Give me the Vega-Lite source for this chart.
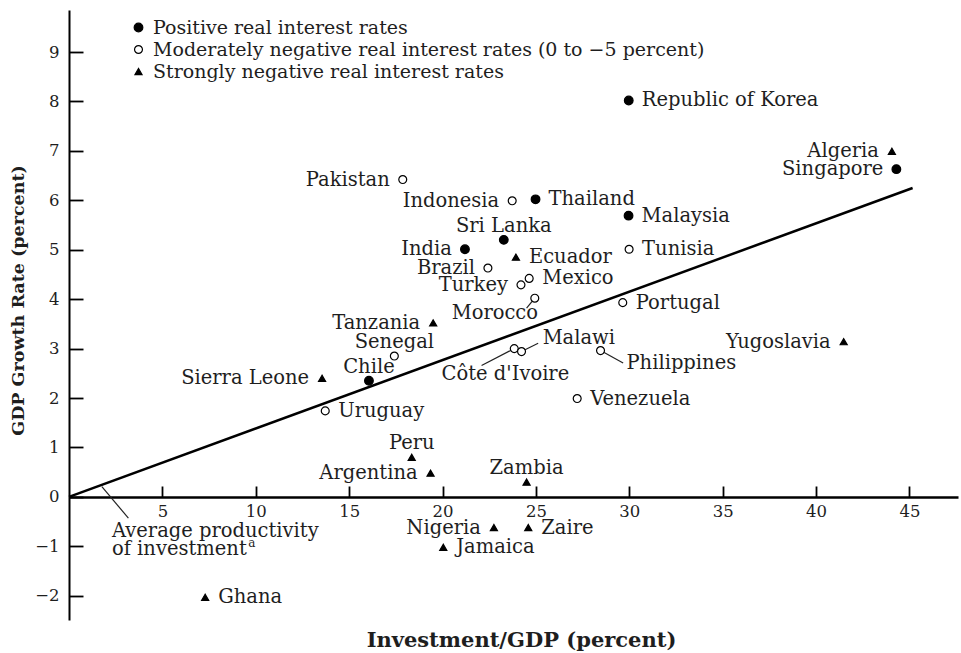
{
  "$schema": "https://vega.github.io/schema/vega-lite/v6.json",
  "width": 889,
  "height": 610,
  "autosize": {"type": "none"},
  "padding": {"left": 69, "top": 10, "right": 3, "bottom": 33},
  "background": "white",
  "config": {
    "view": {"stroke": null},
    "font": "DejaVu Serif",
    "text": {"font": "DejaVu Serif", "fontSize": 19.5, "color": "#1e1e1e"},
    "axis": {"grid": false, "domainColor": "black", "tickColor": "black", "labelColor": "#1e1e1e", "titleColor": "#1e1e1e", "labelFont": "DejaVu Serif", "titleFont": "DejaVu Serif"},
    "legend": {
      "orient": "none", "legendX": 60, "legendY": 8, "padding": 0,
      "labelFont": "DejaVu Serif", "labelFontSize": 19, "labelColor": "#1e1e1e",
      "labelLimit": 800, "rowPadding": 2, "labelOffset": 5,
      "symbolStrokeWidth": 1.2
    }
  },
  "datasets": {
    "countries": [
      {"country": "Republic of Korea", "investment": 29.97, "growth": 8.02, "rates": "Positive real interest rates", "side": "right"},
      {"country": "Singapore", "investment": 44.3, "growth": 6.63, "rates": "Positive real interest rates", "side": "left"},
      {"country": "Thailand", "investment": 24.98, "growth": 6.02, "rates": "Positive real interest rates", "side": "right"},
      {"country": "Malaysia", "investment": 29.96, "growth": 5.69, "rates": "Positive real interest rates", "side": "right"},
      {"country": "Sri Lanka", "investment": 23.28, "growth": 5.2, "rates": "Positive real interest rates", "side": "above"},
      {"country": "India", "investment": 21.2, "growth": 5.01, "rates": "Positive real interest rates", "side": "left"},
      {"country": "Chile", "investment": 16.06, "growth": 2.35, "rates": "Positive real interest rates", "side": "above"},
      {"country": "Pakistan", "investment": 17.87, "growth": 6.42, "rates": "Moderately negative real interest rates (0 to −5 percent)", "side": "left"},
      {"country": "Indonesia", "investment": 23.73, "growth": 5.99, "rates": "Moderately negative real interest rates (0 to −5 percent)", "side": "left"},
      {"country": "Tunisia", "investment": 29.99, "growth": 5.01, "rates": "Moderately negative real interest rates (0 to −5 percent)", "side": "right"},
      {"country": "Brazil", "investment": 22.43, "growth": 4.63, "rates": "Moderately negative real interest rates (0 to −5 percent)", "side": "left"},
      {"country": "Turkey", "investment": 24.2, "growth": 4.29, "rates": "Moderately negative real interest rates (0 to −5 percent)", "side": "left"},
      {"country": "Mexico", "investment": 24.64, "growth": 4.42, "rates": "Moderately negative real interest rates (0 to −5 percent)", "side": "right"},
      {"country": "Morocco", "investment": 24.94, "growth": 4.02, "rates": "Moderately negative real interest rates (0 to −5 percent)", "side": "leader"},
      {"country": "Portugal", "investment": 29.65, "growth": 3.93, "rates": "Moderately negative real interest rates (0 to −5 percent)", "side": "right"},
      {"country": "Senegal", "investment": 17.42, "growth": 2.85, "rates": "Moderately negative real interest rates (0 to −5 percent)", "side": "above"},
      {"country": "Uruguay", "investment": 13.72, "growth": 1.74, "rates": "Moderately negative real interest rates (0 to −5 percent)", "side": "right"},
      {"country": "Côte d'Ivoire", "investment": 23.84, "growth": 3.0, "rates": "Moderately negative real interest rates (0 to −5 percent)", "side": "leader"},
      {"country": "Malawi", "investment": 24.23, "growth": 2.94, "rates": "Moderately negative real interest rates (0 to −5 percent)", "side": "leader"},
      {"country": "Philippines", "investment": 28.46, "growth": 2.96, "rates": "Moderately negative real interest rates (0 to −5 percent)", "side": "leader"},
      {"country": "Venezuela", "investment": 27.21, "growth": 1.99, "rates": "Moderately negative real interest rates (0 to −5 percent)", "side": "right"},
      {"country": "Algeria", "investment": 44.06, "growth": 6.99, "rates": "Strongly negative real interest rates", "side": "left"},
      {"country": "Ecuador", "investment": 23.93, "growth": 4.85, "rates": "Strongly negative real interest rates", "side": "right"},
      {"country": "Tanzania", "investment": 19.5, "growth": 3.52, "rates": "Strongly negative real interest rates", "side": "left"},
      {"country": "Sierra Leone", "investment": 13.55, "growth": 2.4, "rates": "Strongly negative real interest rates", "side": "left"},
      {"country": "Yugoslavia", "investment": 41.48, "growth": 3.14, "rates": "Strongly negative real interest rates", "side": "left"},
      {"country": "Peru", "investment": 18.35, "growth": 0.8, "rates": "Strongly negative real interest rates", "side": "above"},
      {"country": "Argentina", "investment": 19.36, "growth": 0.48, "rates": "Strongly negative real interest rates", "side": "left"},
      {"country": "Zambia", "investment": 24.5, "growth": 0.3, "rates": "Strongly negative real interest rates", "side": "above"},
      {"country": "Nigeria", "investment": 22.75, "growth": -0.62, "rates": "Strongly negative real interest rates", "side": "left"},
      {"country": "Zaire", "investment": 24.59, "growth": -0.62, "rates": "Strongly negative real interest rates", "side": "right"},
      {"country": "Jamaica", "investment": 20.04, "growth": -1.02, "rates": "Strongly negative real interest rates", "side": "right"},
      {"country": "Ghana", "investment": 7.29, "growth": -2.03, "rates": "Strongly negative real interest rates", "side": "right"}
    ],
    "productivity": [
      {"investment": 0, "growth": 0},
      {"investment": 45.17, "growth": 6.25}
    ],
    "leaders": [
      {"label": "Morocco", "investment": 24.94, "growth": 4.02, "end_investment": 24.5, "end_growth": 3.82, "label_investment": 20.49, "label_growth": 3.72},
      {"label": "Côte d'Ivoire", "investment": 23.84, "growth": 3.0, "end_investment": 22.09, "end_growth": 2.66, "label_investment": 19.95, "label_growth": 2.49},
      {"label": "Malawi", "investment": 24.23, "growth": 2.94, "end_investment": 25.12, "end_growth": 3.11, "label_investment": 25.36, "label_growth": 3.21},
      {"label": "Philippines", "investment": 28.46, "growth": 2.96, "end_investment": 29.67, "end_growth": 2.71, "label_investment": 29.85, "label_growth": 2.71}
    ],
    "note": [
      {"label": "Average productivity\nof investment", "investment": 1.76, "growth": 0.21, "end_investment": 3.18, "end_growth": -0.43, "label_investment": 2.3, "label_growth": -0.81}
    ],
    "footnote": [
      {"mark": "a", "investment": 9.6, "growth": -1.02}
    ]
  },
  "layer": [
    {
      "data": {"name": "productivity"},
      "mark": {"type": "line", "color": "black", "strokeWidth": 2.5},
      "encoding": {
        "x": {"field": "investment", "type": "quantitative", "scale": {"domain": [0, 47.6], "nice": false, "zero": false},
          "axis": {
            "title": "Investment/GDP (percent)", "values": [5, 10, 15, 20, 25, 30, 35, 40, 45],
            "offset": -123, "tickSize": -11, "tickWidth": 1.8, "domainWidth": 2.5,
            "labelFontSize": 16.5, "labelPadding": 17,
            "titleFontSize": 21, "titleFontWeight": "bold", "titleX": 452, "titleY": 143,
            "titleAlign": "center", "titleBaseline": "middle"
          }},
        "y": {"field": "growth", "type": "quantitative", "scale": {"domain": [-2.49, 9.85], "nice": false, "zero": false},
          "axis": {
            "title": "GDP Growth Rate (percent)", "values": [-2, -1, 0, 1, 2, 3, 4, 5, 6, 7, 8, 9],
            "tickSize": -14, "tickWidth": 1.8, "domainWidth": 2,
            "labelFontSize": 16.5, "labelPadding": 24,
            "titleFontSize": 17.5, "titleFontWeight": "bold", "titleX": -51, "titleY": 290,
            "titleAlign": "center", "titleBaseline": "middle", "titleAngle": -90
          }}
      }
    },
    {
      "data": {"name": "leaders"},
      "mark": {"type": "rule", "color": "#222", "strokeWidth": 1.2},
      "encoding": {
        "x": {"field": "investment", "type": "quantitative"},
        "y": {"field": "growth", "type": "quantitative"},
        "x2": {"field": "end_investment"},
        "y2": {"field": "end_growth"}
      }
    },
    {
      "data": {"name": "note"},
      "mark": {"type": "rule", "color": "#222", "strokeWidth": 1.2},
      "encoding": {
        "x": {"field": "investment", "type": "quantitative"},
        "y": {"field": "growth", "type": "quantitative"},
        "x2": {"field": "end_investment"},
        "y2": {"field": "end_growth"}
      }
    },
    {
      "data": {"name": "countries"},
      "mark": {"type": "point", "filled": true, "strokeWidth": 1.2, "opacity": 1},
      "encoding": {
        "x": {"field": "investment", "type": "quantitative"},
        "y": {"field": "growth", "type": "quantitative"},
        "shape": {"field": "rates", "type": "nominal",
          "scale": {"domain": ["Positive real interest rates", "Moderately negative real interest rates (0 to −5 percent)", "Strongly negative real interest rates"], "range": ["circle", "circle", "triangle-up"]},
          "legend": {"title": null}},
        "fill": {"field": "rates", "type": "nominal",
          "scale": {"domain": ["Positive real interest rates", "Moderately negative real interest rates (0 to −5 percent)", "Strongly negative real interest rates"], "range": ["black", "white", "black"]},
          "legend": {"title": null}},
        "stroke": {"field": "rates", "type": "nominal",
          "scale": {"domain": ["Positive real interest rates", "Moderately negative real interest rates (0 to −5 percent)", "Strongly negative real interest rates"], "range": ["black", "black", "black"]},
          "legend": {"title": null}},
        "size": {"field": "rates", "type": "nominal",
          "scale": {"domain": ["Positive real interest rates", "Moderately negative real interest rates (0 to −5 percent)", "Strongly negative real interest rates"], "range": [75, 50, 80]},
          "legend": {"title": null}}
      }
    },
    {
      "data": {"name": "countries"},
      "transform": [{"filter": "datum.side === 'right'"}],
      "mark": {"type": "text", "align": "left", "baseline": "middle", "dx": 13},
      "encoding": {
        "x": {"field": "investment", "type": "quantitative"},
        "y": {"field": "growth", "type": "quantitative"},
        "text": {"field": "country"}
      }
    },
    {
      "data": {"name": "countries"},
      "transform": [{"filter": "datum.side === 'left'"}],
      "mark": {"type": "text", "align": "right", "baseline": "middle", "dx": -13},
      "encoding": {
        "x": {"field": "investment", "type": "quantitative"},
        "y": {"field": "growth", "type": "quantitative"},
        "text": {"field": "country"}
      }
    },
    {
      "data": {"name": "countries"},
      "transform": [{"filter": "datum.side === 'above'"}],
      "mark": {"type": "text", "align": "center", "baseline": "middle", "dy": -14},
      "encoding": {
        "x": {"field": "investment", "type": "quantitative"},
        "y": {"field": "growth", "type": "quantitative"},
        "text": {"field": "country"}
      }
    },
    {
      "data": {"name": "leaders"},
      "mark": {"type": "text", "align": "left", "baseline": "middle"},
      "encoding": {
        "x": {"field": "label_investment", "type": "quantitative"},
        "y": {"field": "label_growth", "type": "quantitative"},
        "text": {"field": "label"}
      }
    },
    {
      "data": {"name": "note"},
      "mark": {"type": "text", "align": "left", "baseline": "alphabetic", "lineBreak": "\n", "lineHeight": 18},
      "encoding": {
        "x": {"field": "label_investment", "type": "quantitative"},
        "y": {"field": "label_growth", "type": "quantitative"},
        "text": {"field": "label"}
      }
    },
    {
      "data": {"name": "footnote"},
      "mark": {"type": "text", "align": "left", "baseline": "alphabetic", "fontSize": 12},
      "encoding": {
        "x": {"field": "investment", "type": "quantitative"},
        "y": {"field": "growth", "type": "quantitative"},
        "text": {"field": "mark"}
      }
    }
  ]
}
